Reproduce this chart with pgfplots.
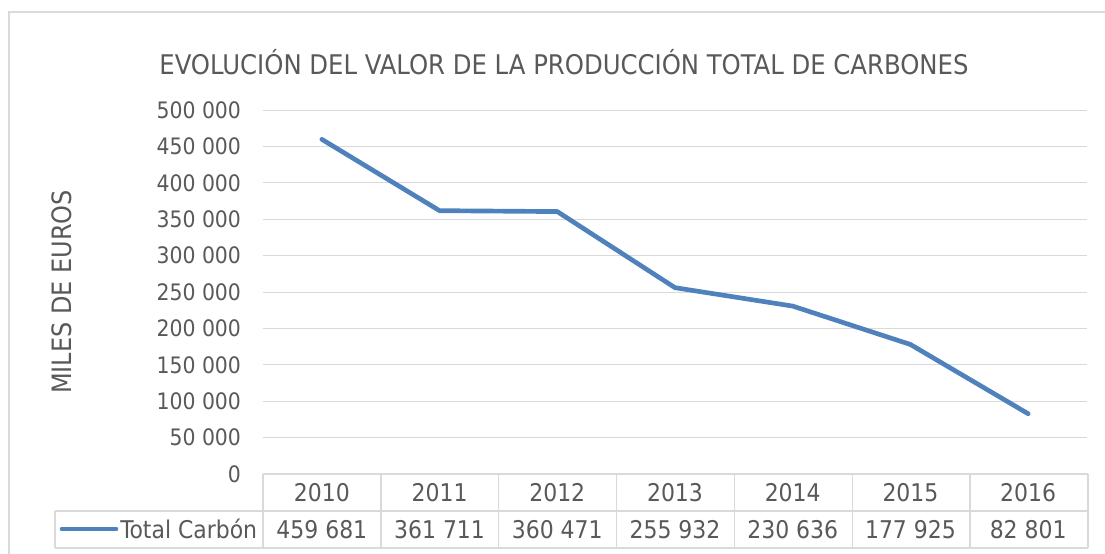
\documentclass[border=0pt]{standalone}
\usepackage{pgfplots}
\pgfplotsset{compat=1.18}
\usepackage{fontspec}
\setmainfont{DejaVu Sans Condensed}
\definecolor{txt}{HTML}{595959}
\definecolor{grd}{HTML}{D9D9D9}
\definecolor{ser}{HTML}{4F81BD}
\newcommand{\tfont}{\fontsize{18.3}{21}\selectfont}
\begin{document}
\begin{tikzpicture}
\begin{axis}[width=618pt, height=273pt, scale only axis,
  xmin=-0.5, xmax=6.5, ymin=0, ymax=500000, clip=false,
  axis line style={draw=none}, ymajorgrids, grid style={grd, line width=0.75pt},
  ytick={0,50000,100000,150000,200000,250000,300000,350000,400000,450000,500000},
  yticklabels={0,50 000,100 000,150 000,200 000,250 000,300 000,350 000,400 000,450 000,500 000},
  xtick=\empty, major tick length=0pt, scaled y ticks=false,
  yticklabel style={font=\fontsize{17}{20}\selectfont, text=txt, xshift=-13pt}]
\addplot[ser, line width=3.5pt, line join=round, line cap=round] coordinates {(0,459681)(1,361711)(2,360471)(3,255932)(4,230636)(5,177925)(6,82801)};
\node[font=\tfont, text=txt, yshift=-13.9pt] at (axis cs:0,0) {2010};
\node[font=\tfont, text=txt, yshift=-13.9pt] at (axis cs:1,0) {2011};
\node[font=\tfont, text=txt, yshift=-13.9pt] at (axis cs:2,0) {2012};
\node[font=\tfont, text=txt, yshift=-13.9pt] at (axis cs:3,0) {2013};
\node[font=\tfont, text=txt, yshift=-13.9pt] at (axis cs:4,0) {2014};
\node[font=\tfont, text=txt, yshift=-13.9pt] at (axis cs:5,0) {2015};
\node[font=\tfont, text=txt, yshift=-13.9pt] at (axis cs:6,0) {2016};
\node[font=\tfont, text=txt, yshift=-41.6pt] at (axis cs:0,0) {459 681};
\node[font=\tfont, text=txt, yshift=-41.6pt] at (axis cs:1,0) {361 711};
\node[font=\tfont, text=txt, yshift=-41.6pt] at (axis cs:2,0) {360 471};
\node[font=\tfont, text=txt, yshift=-41.6pt] at (axis cs:3,0) {255 932};
\node[font=\tfont, text=txt, yshift=-41.6pt] at (axis cs:4,0) {230 636};
\node[font=\tfont, text=txt, yshift=-41.6pt] at (axis cs:5,0) {177 925};
\node[font=\tfont, text=txt, yshift=-41.6pt] at (axis cs:6,0) {82 801};
\coordinate (O) at (rel axis cs:0,0);
\end{axis}
\begin{scope}[x=0.75pt, y=0.75pt, shift={(O)}, shift={(-263,-79)}]
\useasboundingbox (0,0) rectangle (1105,553);
\draw[grd, line width=1.1pt] (9,-50) -- (9,541) -- (1120,541);
\node[font=\fontsize{20.3}{24}\selectfont, text=txt] at (564,491) {EVOLUCIÓN DEL VALOR DE LA PRODUCCIÓN TOTAL DE CARBONES};
\node[font=\fontsize{20}{23}\selectfont, text=txt, rotate=90] at (62,261) {MILES DE EUROS};
\begin{scope}[grd, line width=1.1pt]
\draw (263,79) -- (1088,79);
\draw (55,42) -- (1088,42);
\draw (55,5) -- (1088,5);
\draw (55,42) -- (55,5);
\foreach \k in {0,...,7} { \draw ({263+117.857*\k},79) -- ({263+117.857*\k},5); }
\end{scope}
\draw[ser, line width=3.5pt, line cap=round] (62,24) -- (116,24);
\node[font=\tfont, text=txt, anchor=west, inner sep=0pt] at (120,24) {Total Carbón};
\end{scope}
\end{tikzpicture}
\end{document}
